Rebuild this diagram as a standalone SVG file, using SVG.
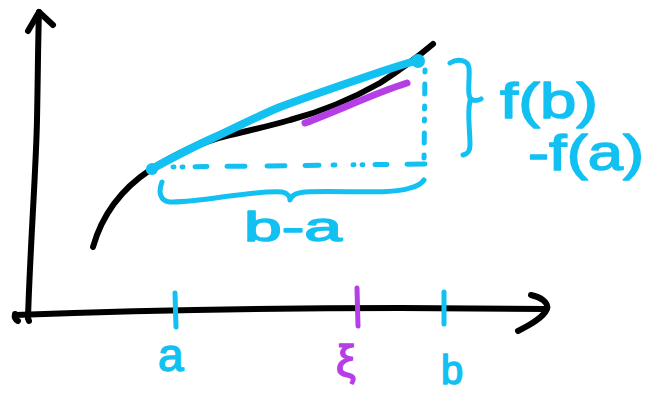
<svg xmlns="http://www.w3.org/2000/svg" width="656" height="393" viewBox="0 0 656 393">
<style>
.k{fill:none;stroke:#000;stroke-width:6;stroke-linecap:round;stroke-linejoin:round}
.c{fill:none;stroke:#12c0f2;stroke-linecap:round;stroke-linejoin:round}
.p{fill:none;stroke:#b53ee6;stroke-linecap:round;stroke-linejoin:round}
.tc{font-family:"Liberation Sans",Arial,sans-serif;fill:#12c0f2;stroke:#12c0f2;stroke-width:1.5;stroke-linejoin:round}
.tp{font-family:"Liberation Sans",Arial,sans-serif;fill:#b53ee6;stroke:#b53ee6;stroke-width:1.5;stroke-linejoin:round}
</style>
<rect width="656" height="393" fill="#fff"/>
<g id="axes">
<path class="k" d="M28,318 C30,250 36,170 37,120 C38,70 38,40 39,12"/>
<path class="k" d="M28,31 L39,12 L53,25"/>
<path class="k" d="M15,315 C120,311 250,308 400,308 C460,308 510,309 546,309"/>
<path class="k" d="M531,295 C540,297 549,302 547,309 C543,318 530,325 518,331"/>
<path class="k" d="M15,314 C14,318 16,320 18,321 M28,318 L29,321"/>
</g>
<g id="curve">
<path class="k" d="M93,247 C102,215 120,190 150,170 C172,156 200,142 230,135 C255,129 270,126 290,120 C320,112 350,100 380,83 C400,70 420,55 433,44"/>
</g>
<g id="tangent">
<path class="p" stroke-width="7" d="M305,123 C340,110 375,93 407,83"/>
</g>
<g id="secant">
<path class="c" stroke-width="8" d="M150,170 C170,159 195,146 213,138 C235,128 258,116 280,107 C320,92 360,79 380,72 C395,67 408,63 418,60"/>
<circle cx="418" cy="61" r="7" fill="#12c0f2"/>
<circle cx="152" cy="169" r="6" fill="#12c0f2"/>
<path class="c" stroke-width="5" stroke-dasharray="1 8 1 12 12 20 18 22 18 20 14 14 2 18" d="M173,167 L425,164"/>
<path class="c" stroke-width="5" stroke-dasharray="2 12 10 12 3 10" d="M425,70 L424,163"/>
</g>
<g id="brace-bottom">
<path class="c" stroke-width="5" d="M162,182 C158,192 160,201 170,202 C200,203 250,190 282,192 C288,193 290,197 290,200 C291,196 295,193 305,192 C340,190 390,195 410,188 C418,186 422,183 424,180"/>
</g>
<g id="brace-right">
<path class="c" stroke-width="5" d="M450,63 C458,58 468,60 469,68 C470,80 467,92 470,98 C472,101 478,101 481,99 M470,101 C467,112 470,130 470,145 C470,152 467,154 463,155"/>
</g>
<g id="ticks">
<path class="c" stroke-width="5" d="M175,293 L176,327"/>
<path class="p" stroke-width="5" d="M357,288 L358,326"/>
<path class="c" stroke-width="5" d="M444,292 L444,324"/>
</g>
<g id="labels">
<text class="tc" x="500" y="118" font-size="50" textLength="98" lengthAdjust="spacingAndGlyphs">f(b)</text>
<text class="tc" x="528" y="170" font-size="50" textLength="116" lengthAdjust="spacingAndGlyphs">-f(a)</text>
<text class="tc" x="244" y="241" font-size="40" textLength="98" lengthAdjust="spacingAndGlyphs">b-a</text>
<text class="tc" x="158" y="371" font-size="46">a</text>
<text class="tp" x="336" y="376" font-size="44">ξ</text>
<text class="tc" x="441" y="384" font-size="40">b</text>
</g>
</svg>
